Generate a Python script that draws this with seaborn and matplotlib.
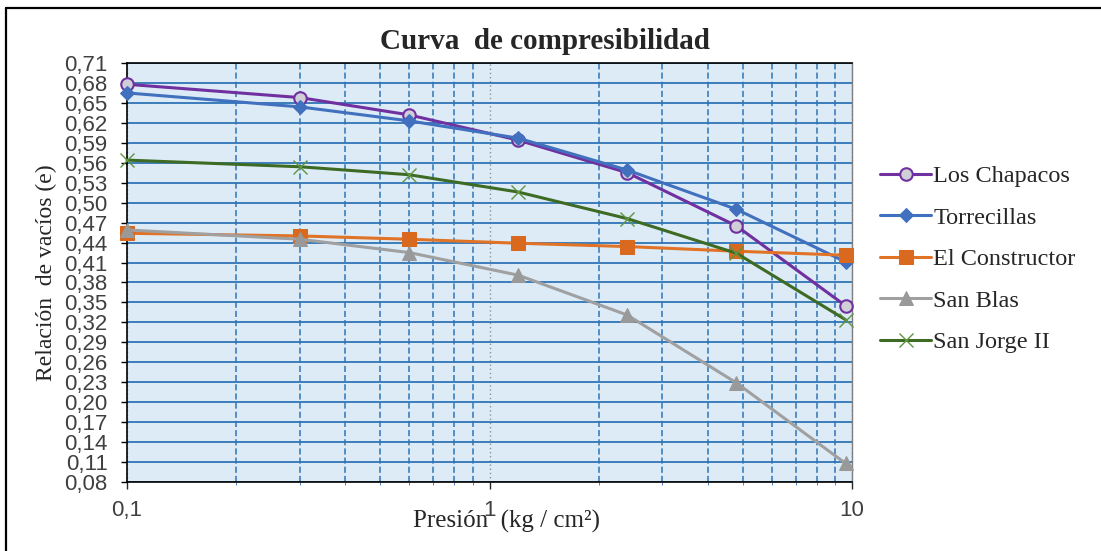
import matplotlib
matplotlib.use("Agg")
import matplotlib.pyplot as plt
import seaborn as sns
import numpy as np
import pandas as pd
from matplotlib import ticker
from matplotlib.lines import Line2D

# pressures (kg/cm2)
presion = [0.1, 0.3, 0.6, 1.2, 2.4, 4.8, 9.6]

los_chapacos = [0.678, 0.658, 0.632, 0.594, 0.545, 0.465, 0.345]
torrecillas = [0.665, 0.644, 0.623, 0.597, 0.549, 0.490, 0.411]
el_constructor = [0.454, 0.450, 0.445, 0.439, 0.434, 0.427, 0.421]
san_blas = [0.459, 0.445, 0.425, 0.391, 0.331, 0.229, 0.108]
san_jorge = [0.564, 0.554, 0.542, 0.516, 0.476, 0.424, 0.324]

series_names = ["Los Chapacos", "Torrecillas", "El Constructor", "San Blas", "San Jorge II"]
y_ticks = [0.08, 0.11, 0.14, 0.17, 0.20, 0.23, 0.26, 0.29, 0.32, 0.35, 0.38,
           0.41, 0.44, 0.47, 0.50, 0.53, 0.56, 0.59, 0.62, 0.65, 0.68, 0.71]
x_ticks = [0.1, 1, 10]
x_tick_labels = ["0,1", "1", "10"]

values = [los_chapacos, torrecillas, el_constructor, san_blas, san_jorge]
df = pd.concat(
    [pd.DataFrame({"Presion": presion, "e": v, "Muestra": n}) for n, v in zip(series_names, values)],
    ignore_index=True,
)

styles = {
    "Los Chapacos": dict(color="#7030A0", marker="o", markersize=9, markerfacecolor="#D0CED6",
                         markeredgecolor="#7030A0", markeredgewidth=1.5),
    "Torrecillas": dict(color="#4170BE", marker="D", markersize=7, markerfacecolor="#4170BE",
                        markeredgecolor="#4170BE"),
    "El Constructor": dict(color="#E07326", marker="s", markersize=10, markerfacecolor="#D9691E",
                           markeredgecolor="#D9691E"),
    "San Blas": dict(color="#A0A0A0", marker="^", markersize=10, markerfacecolor="#999999",
                     markeredgecolor="#999999"),
    "San Jorge II": dict(color="#3E6B24", marker="x", markersize=10, markeredgecolor="#5E9440",
                         markeredgewidth=1.0),
}

sns.set_style("white")
plt.rcParams["font.family"] = ["Liberation Serif", "DejaVu Serif"]

fig = plt.figure(figsize=(11.01, 5.51), dpi=100)
ax = fig.add_axes([127 / 1101, 1 - 482 / 551, 725 / 1101, 419 / 551])
ax.set_facecolor("#DDEBF7")

for name in series_names:
    sub = df[df["Muestra"] == name]
    sns.lineplot(data=sub, x="Presion", y="e", ax=ax, linewidth=2.2, label=name,
                 clip_on=False, zorder=3, **styles[name])

ax.set_xscale("log")
ax.set_xlim(0.1, 10)
ax.set_ylim(0.08, 0.71)
ax.set_yticks(y_ticks)
ax.yaxis.set_major_formatter(ticker.FuncFormatter(lambda v, p: f"{v:.2f}".replace(".", ",")))
ax.set_xticks(x_ticks)
ax.set_xticklabels(x_tick_labels)
ax.xaxis.set_minor_locator(ticker.LogLocator(base=10, subs=np.arange(2, 10)))
ax.xaxis.set_minor_formatter(ticker.NullFormatter())

ax.grid(True, axis="y", which="major", color="#2E75B6", linewidth=1.3, zorder=1)
ax.grid(True, axis="x", which="minor", color="#2E75B6", linewidth=1.1, linestyle=(0, (4, 2)), zorder=1)
ax.grid(True, axis="x", which="major", color="#909090", linewidth=1.0, linestyle=(0, (1, 2)), zorder=1)
ax.set_axisbelow(True)

for s in ["left", "bottom", "top"]:
    ax.spines[s].set_color("black")
    ax.spines[s].set_linewidth(1.2)
ax.spines["right"].set_color("#7f7f7f")
ax.spines["right"].set_linewidth(1.0)

tick_font = ["Liberation Sans Narrow", "Liberation Sans", "DejaVu Sans"]
ax.tick_params(axis="y", which="major", direction="out", length=4, width=1, left=True,
               labelsize=16, pad=10, colors="black")
ax.tick_params(axis="x", which="major", direction="out", length=5, width=1, bottom=True,
               labelsize=16, pad=8)
ax.tick_params(axis="x", which="minor", direction="out", length=2, width=0.6, bottom=True, color="#4170BE")
for lab in ax.get_yticklabels() + ax.get_xticklabels():
    lab.set_family(tick_font)
    lab.set_color("#404040")

fig.suptitle("Curva  de compresibilidad", fontsize=21, fontweight="bold",
             x=545 / 1101, y=1 - 41 / 551, va="center")
ax.set_xlabel("Presión  (kg / cm²)", fontsize=18, color="#262626")
ax.xaxis.set_label_coords(0.524, -0.066)
ax.set_ylabel("Relación  de vacíos (e)", fontsize=17, color="#262626")
ax.yaxis.set_label_coords(-0.097, 0.5)

leg = ax.legend(loc="center left", bbox_to_anchor=((880 - 127) / 725, 0.532), frameon=False,
                fontsize=17.5, handlelength=2.1, labelspacing=0.8, handletextpad=0.1,
                borderaxespad=0, borderpad=0)

# outer chart frame (top and left edges visible)
fig.add_artist(Line2D([6 / 1101, 1.0], [1 - 8 / 551, 1 - 8 / 551], color="black", linewidth=1.6,
                      transform=fig.transFigure))
fig.add_artist(Line2D([6 / 1101, 6 / 1101], [1 - 8 / 551, 0.0], color="black", linewidth=1.6,
                      transform=fig.transFigure))

fig.savefig("out.png", dpi=100)
